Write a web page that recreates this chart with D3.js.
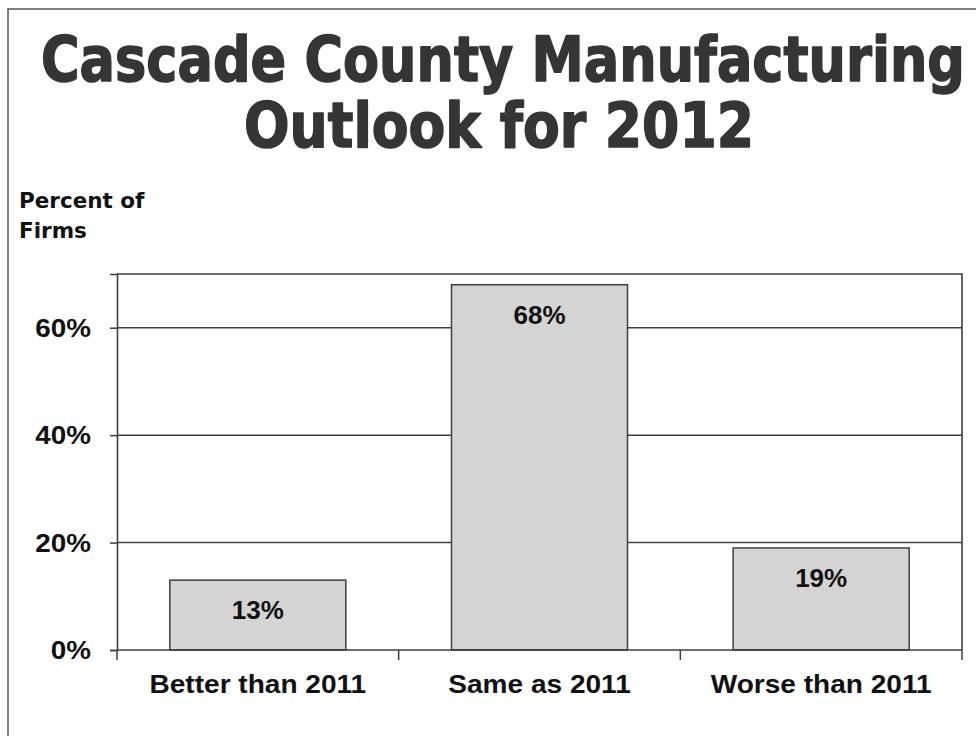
<!DOCTYPE html>
<html>
<head>
<meta charset="utf-8">
<script src="https://cdn.jsdelivr.net/npm/d3@7/dist/d3.min.js"></script>
<style>
  html, body { margin: 0; padding: 0; background: #fff; }
  svg { display: block; }
</style>
</head>
<body>
<svg id="chart" width="976" height="736"></svg>
<script>
const titleLines = ["Cascade County Manufacturing", "Outlook for 2012"];
const yAxisTitle = ["Percent of", "Firms"];
const categories = ["Better than 2011", "Same as 2011", "Worse than 2011"];
const values = [13, 68, 19];
const valueLabels = ["13%", "68%", "19%"];
const yTicks = [0, 20, 40, 60];
const yTickLabels = ["0%", "20%", "40%", "60%"];

(function () {
const svg = d3.select("#chart");
const lineColor = "#3f3f3f";
const labelFont = "'Liberation Sans', Arial, sans-serif";

// stretch a text horizontally by a factor (reference glyphs are slightly wide)
function stretch(sel, f) {
  sel.each(function () {
    const len = this.getComputedTextLength();
    d3.select(this).attr("textLength", len * f).attr("lengthAdjust", "spacingAndGlyphs");
  });
}

// outer slide border
svg.append("rect")
  .attr("x", 8).attr("y", 9).attr("width", 1100).attr("height", 1000)
  .attr("fill", "none").attr("stroke", "#555").attr("stroke-width", 1.5);

// title: fit each line to its width, then stretch vertically to the wanted cap height
const titleWidths = [924, 510];
const titleCenters = [503, 499];
const titleBaselines = [81, 147];
const titleSize = 63;
svg.selectAll("text.title").data(titleLines).enter().append("text")
  .attr("class", "title")
  .attr("text-anchor", "middle")
  .style("font-family", "'DejaVu Sans Condensed', 'DejaVu Sans', sans-serif")
  .style("font-weight", "bold")
  .style("font-size", titleSize + "px")
  .style("fill", "#353535")
  .style("stroke", "#353535")
  .style("stroke-width", "1.4px")
  .style("stroke-linejoin", "round")
  .text(d => d)
  .each(function (d, i) {
    const natural = this.getComputedTextLength();
    const s = titleSize * titleWidths[i] / natural;
    d3.select(this)
      .style("font-size", s + "px")
      .attr("transform", `translate(${titleCenters[i]},${titleBaselines[i]}) scale(1,${titleSize / s})`);
  });

// y axis title
svg.selectAll("text.ytitle").data(yAxisTitle).enter().append("text")
  .attr("class", "ytitle")
  .attr("x", 19)
  .attr("y", (d, i) => 208 + i * 30)
  .style("font-family", "'DejaVu Sans', sans-serif")
  .style("font-weight", "bold")
  .style("font-size", "21.5px")
  .style("fill", "#111")
  .text(d => d);

const pLeft = 117, pRight = 962, pTop = 274, pBottom = 650;
const x = d3.scaleBand().domain(categories).range([pLeft, pRight]).padding(0);
const y = d3.scaleLinear().domain([0, 70]).range([pBottom, pTop]);

// plot frame (top and right)
svg.append("path")
  .attr("d", `M${pLeft},${pTop}H${pRight}V${pBottom}`)
  .attr("fill", "none").attr("stroke", lineColor).attr("stroke-width", 1.6);

// gridlines
svg.append("g").selectAll("line").data(yTicks.filter(t => t > 0)).enter().append("line")
  .attr("x1", pLeft).attr("x2", pRight)
  .attr("y1", d => y(d)).attr("y2", d => y(d))
  .attr("stroke", lineColor).attr("stroke-width", 1.5);

// bars
const bw = x.bandwidth() * 0.625;
const off = (x.bandwidth() - bw) / 2;
svg.append("g").selectAll("rect").data(values).enter().append("rect")
  .attr("x", (d, i) => x(categories[i]) + off)
  .attr("y", d => y(d))
  .attr("width", bw)
  .attr("height", d => y(0) - y(d))
  .attr("fill", "#d4d4d4")
  .attr("stroke", lineColor).attr("stroke-width", 1.5);

// value labels
svg.append("g").selectAll("text").data(values).enter().append("text")
  .attr("x", (d, i) => x(categories[i]) + x.bandwidth() / 2)
  .attr("y", d => y(d) + 39)
  .attr("text-anchor", "middle")
  .style("font-family", labelFont)
  .style("font-weight", "bold")
  .style("font-size", "26px")
  .style("fill", "#111")
  .text((d, i) => valueLabels[i]);

// y axis
const yAxis = d3.axisLeft(y).tickValues(yTicks)
  .tickFormat((d, i) => yTickLabels[i]).tickSize(7).tickPadding(19);
const gy = svg.append("g").attr("transform", `translate(${pLeft},0)`).call(yAxis);
gy.select(".domain").attr("stroke", lineColor).attr("stroke-width", 1.6);
gy.selectAll(".tick line").attr("stroke", lineColor).attr("stroke-width", 1.5);
gy.selectAll(".tick text")
  .style("font-family", labelFont)
  .style("font-weight", "bold")
  .style("font-size", "26.5px")
  .style("fill", "#111")
  .call(stretch, 1.05);

// x axis (labels centered, ticks at category boundaries)
const xAxis = d3.axisBottom(x).tickSize(0).tickPadding(24);
const gx = svg.append("g").attr("transform", `translate(0,${pBottom})`).call(xAxis);
gx.select(".domain").remove();
gx.selectAll(".tick text")
  .attr("dy", null)
  .style("font-family", labelFont)
  .style("font-weight", "bold")
  .style("font-size", "25.5px")
  .style("fill", "#111")
  .call(stretch, 1.1);
gx.selectAll(".tick text").attr("y", 43);

svg.append("line")
  .attr("x1", pLeft).attr("x2", pRight)
  .attr("y1", pBottom).attr("y2", pBottom)
  .attr("stroke", lineColor).attr("stroke-width", 1.6);

const boundaries = categories.map(c => x(c)).concat([x.range()[1]]);
svg.append("g").selectAll("line").data(boundaries).enter().append("line")
  .attr("x1", d => d).attr("x2", d => d)
  .attr("y1", pBottom).attr("y2", pBottom + 10)
  .attr("stroke", lineColor).attr("stroke-width", 1.5);
})();
</script>
</body>
</html>
